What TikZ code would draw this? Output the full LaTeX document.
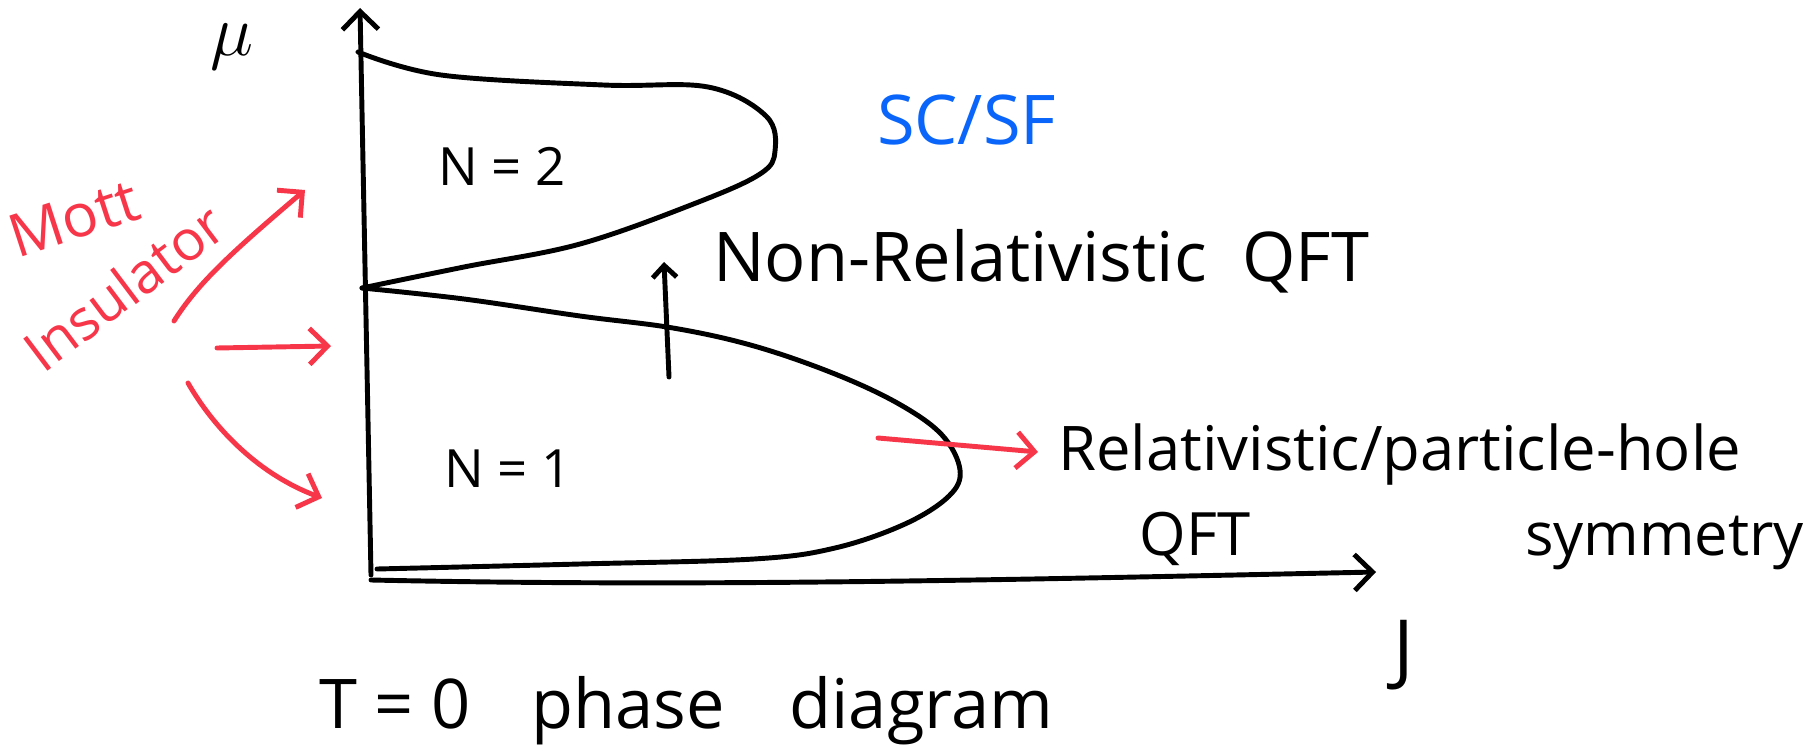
\documentclass[tikz,border=0pt]{standalone}
\usepackage{fontspec}
\setmainfont{Open Sans}
\usetikzlibrary{arrows.meta, positioning, calc}
\definecolor{penred}{RGB}{247,54,74}
\definecolor{penblue}{RGB}{10,102,250}

\begin{document}
\begin{tikzpicture}[
          x=0.01cm, y=-0.01cm,
          pen/.style={line width=1.4pt, line cap=round, line join=round},
          redpen/.style={pen, draw=penred},
          barb/.style={-{Straight Barb[length=1.8mm, width=3.6mm]}},
          smallbarb/.style={-{Straight Barb[length=1.2mm, width=2.4mm]}},
          every node/.style={inner sep=0pt, outer sep=0pt},
          biglabel/.style={font=\fontsize{19.5}{24}\selectfont},
          midlabel/.style={font=\fontsize{17}{20}\selectfont},
          phaselabel/.style={font=\fontsize{15}{18}\selectfont}
        ]
          \useasboundingbox (0,0) rectangle (1819,755);

          % axes
          \coordinate (origin) at (371,575);
          \coordinate (mutop) at (360,8);
          \coordinate (Jend) at (1376,572);
          \coordinate (cusp) at (362,288);
          \draw[pen, barb] (origin) -- (mutop);
          \draw[pen, barb] ($(origin)+(0,5)$) .. controls (700,587) and (1000,580) .. (Jend);
          \node (mu) at (232,47) {\fontsize{22}{26}\selectfont$\mu$};
          \node (J) at (1404,655) {\fontsize{22}{26}\selectfont J};

          % phase boundaries
          \draw[pen] plot[smooth, tension=0.6] coordinates {
            (358,52) (441,75) (603,85) (708,87) (766,116) (775,151)
            (760,174) (696,203) (580,244) (464,267) (cusp)};
          \draw[pen] plot[smooth, tension=0.6] coordinates {
            (cusp) (464,299) (580,316) (673,328) (754,346) (835,374)
            (899,404) (942,435) (960,470) (949,496) (905,524) (835,548)
            (754,559) (580,564) (377,569)};

          % phases
          \node[phaselabel, anchor=base west] (n2) at (438,186) {N = 2};
          \node[phaselabel, anchor=base west] (n1) at (444,487) {N = 1};
          \node[biglabel, anchor=base west, text=penblue] (scsf) at (877,145) {SC/SF};
          \node[font=\fontsize{17}{20}\selectfont, text=penred, rotate=18] (mott) at (74,218) {Mott};
          \node[font=\fontsize{16}{19}\selectfont, text=penred, rotate=37] (insul) at (124,287) {Insulator};

          % transitions
          \node[biglabel, anchor=base west] (nonrel) at (713,282) {Non-Relativistic\ \ QFT};
          \node[font=\fontsize{17.5}{21}\selectfont, anchor=base west] (rel) at (1058,470) {Relativistic/particle-hole};
          \node[midlabel, anchor=base] (qft) at (1195,555) {QFT};
          \node[midlabel, anchor=base west] (sym) at (1525,555) {symmetry};
          \coordinate (nrstart) at (669,377);
          \coordinate (nrend) at (664,262);
          \draw[pen, smallbarb] (nrstart) -- (nrend);
          \coordinate (relstart) at (878,438);
          \draw[redpen, barb] (relstart) -- ($(rel.west)+(-20,-2)$);

          % Mott insulator arrows
          \coordinate (mi1) at (174,321);
          \coordinate (mi2) at (217,348);
          \coordinate (mi3) at (188,383);
          \coordinate (ax1) at (305,190);
          \coordinate (ax2) at (331,346);
          \coordinate (ax3) at (322,498);
          \draw[redpen, barb] (mi1) .. controls (198,283) and (232,252) .. (ax1);
          \draw[redpen, barb] (mi2) -- (ax2);
          \draw[redpen, barb] (mi3) .. controls (215,430) and (260,475) .. (ax3);

          \node[biglabel, anchor=base west] (title) at (319,728) {T = 0\hspace{0.6cm}phase\hspace{0.65cm}diagram};
        \end{tikzpicture}
\end{document}
